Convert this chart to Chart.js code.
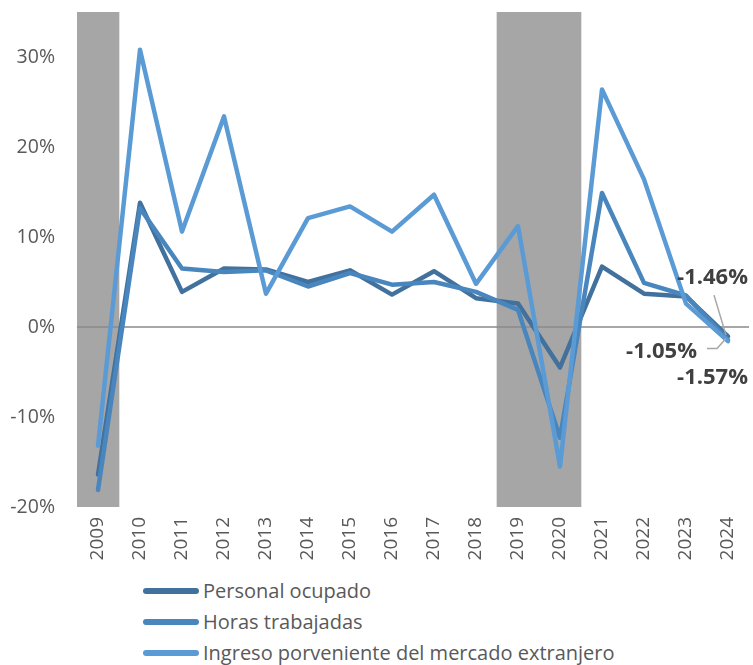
<!DOCTYPE html>
<html>
<head>
<meta charset="utf-8">
<script src="https://cdn.jsdelivr.net/npm/chart.js@4.4.0/dist/chart.umd.min.js"></script>
<style>
  html, body { margin: 0; padding: 0; background: #fff; }
  #wrap { position: relative; width: 753px; height: 665px; }
  #chartBox { position: absolute; left: 0; top: 0; width: 753px; height: 575px; }
  #legend { position: absolute; left: 143px; top: 575px; font-family: "Open Sans", sans-serif; font-size: 20px; color: #595959; }
  .item { display: flex; align-items: center; height: 31px; }
  .swatch { width: 56px; height: 6px; border-radius: 3px; margin-right: 4px; }
</style>
</head>
<body>
<div id="wrap">
  <div id="chartBox"><canvas id="c"></canvas></div>
  <div id="legend"></div>
</div>
<script>
const years = ['2009','2010','2011','2012','2013','2014','2015','2016','2017','2018','2019','2020','2021','2022','2023','2024'];
const personalOcupado = [-16.4, 13.8, 3.9, 6.5, 6.4, 5.0, 6.3, 3.6, 6.2, 3.2, 2.6, -4.5, 6.7, 3.7, 3.4, -1.05];
const horasTrabajadas = [-18.1, 13.2, 6.5, 6.1, 6.3, 4.5, 6.0, 4.7, 5.0, 3.9, 1.9, -12.3, 14.9, 4.9, 3.5, -1.46];
const ingresoExtranjero = [-13.2, 30.8, 10.6, 23.4, 3.7, 12.1, 13.4, 10.6, 14.7, 4.8, 11.2, -15.5, 26.4, 16.4, 2.6, -1.57];
const shadedYears = ['2009', '2019', '2020'];
const seriesNames = ['Personal ocupado', 'Horas trabajadas', 'Ingreso porveniente del mercado extranjero'];
const seriesColors = ['#41719C', '#4A86BE', '#5B9BD5'];
const yMin = -20, yMax = 35, yStep = 10;

const shade = years.map(y => shadedYears.includes(y) ? [yMin, yMax] : null);

// label placement for the last-point data labels (offsets in px from the point)
const endLabels = [
  { ds: 0, dx: -31, dy: 15, leader: [[-21, 12], [-11, 12], [-2, 2]] },
  { ds: 1, dx: 20, dy: -62, leader: [[-14, -45], [-2, -5]] },
  { ds: 2, dx: 20, dy: 37, leader: null }
];

const zeroLinePlugin = {
  id: 'zeroLine',
  afterDatasetDraw(chart, args) {
    if (args.index !== 3) return;
    const y = chart.scales.y.getPixelForValue(0);
    const ca = chart.chartArea;
    const ctx = chart.ctx;
    ctx.save();
    ctx.strokeStyle = '#8a8a8a';
    ctx.lineWidth = 1.5;
    ctx.beginPath();
    ctx.moveTo(ca.left, y);
    ctx.lineTo(ca.right, y);
    ctx.stroke();
    ctx.restore();
  }
};

const endLabelPlugin = {
  id: 'endLabels',
  afterDatasetsDraw(chart) {
    const ctx = chart.ctx;
    ctx.save();
    endLabels.forEach(l => {
      const meta = chart.getDatasetMeta(l.ds);
      const pt = meta.data[meta.data.length - 1];
      const v = chart.data.datasets[l.ds].data[years.length - 1];
      if (l.leader) {
        ctx.strokeStyle = '#a6a6a6';
        ctx.lineWidth = 1.5;
        ctx.beginPath();
        l.leader.forEach((p, i) => {
          const x = pt.x + p[0], y = pt.y + p[1];
          if (i === 0) ctx.moveTo(x, y); else ctx.lineTo(x, y);
        });
        ctx.stroke();
      }
      ctx.fillStyle = '#404040';
      ctx.font = 'bold 22px "Open Sans", sans-serif';
      ctx.textAlign = 'right';
      ctx.textBaseline = 'middle';
      ctx.fillText(v.toFixed(2) + '%', pt.x + l.dx, pt.y + l.dy);
    });
    ctx.restore();
  }
};

const lineDs = (i, data, order) => ({
  type: 'line',
  label: seriesNames[i],
  data: data,
  borderColor: seriesColors[i],
  backgroundColor: seriesColors[i],
  borderWidth: 4.5,
  borderCapStyle: 'round',
  borderJoinStyle: 'round',
  pointRadius: 0,
  tension: 0,
  fill: false,
  order: order
});

function noPad(s) {
  s.paddingTop = 0; s.paddingBottom = 0; s.paddingLeft = 0; s.paddingRight = 0;
}

new Chart(document.getElementById('c'), {
  type: 'line',
  data: {
    labels: years,
    datasets: [
      lineDs(0, personalOcupado, 2),
      lineDs(1, horasTrabajadas, 1),
      lineDs(2, ingresoExtranjero, 0),
      {
        type: 'bar',
        label: 'shade',
        data: shade,
        backgroundColor: '#A6A6A6',
        borderWidth: 0,
        barPercentage: 1,
        categoryPercentage: 1,
        grouped: false,
        order: 3
      }
    ]
  },
  options: {
    responsive: true,
    maintainAspectRatio: false,
    animation: false,
    layout: { padding: { top: 12, right: 4, left: 0, bottom: 0 } },
    plugins: { legend: { display: false }, tooltip: { enabled: false } },
    scales: {
      x: {
        offset: true,
        grid: { display: false, drawTicks: false },
        border: { display: false },
        ticks: {
          minRotation: 90, maxRotation: 90, padding: 10,
          color: '#595959',
          font: { family: '"Open Sans", sans-serif', size: 19 }
        },
        afterFit(s) { s.height = 68; noPad(s); }
      },
      y: {
        min: yMin, max: yMax,
        grid: { display: false, drawTicks: false },
        border: { display: false },
        ticks: {
          stepSize: yStep, padding: 22,
          color: '#595959',
          font: { family: '"Open Sans", sans-serif', size: 19.5 },
          callback: v => (v % yStep === 0) ? v + '%' : ''
        },
        afterFit(s) { s.width = 77; noPad(s); }
      }
    }
  },
  plugins: [zeroLinePlugin, endLabelPlugin]
});

const leg = document.getElementById('legend');
seriesNames.forEach((n, i) => {
  const d = document.createElement('div');
  d.className = 'item';
  d.innerHTML = '<span class="swatch" style="background:' + seriesColors[i] + '"></span><span>' + n + '</span>';
  leg.appendChild(d);
});
</script>
</body>
</html>
